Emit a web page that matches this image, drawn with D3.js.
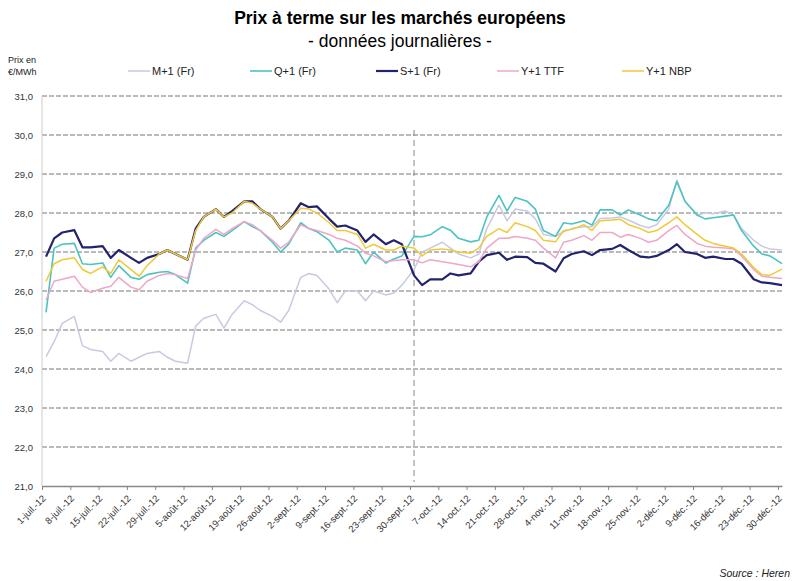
<!DOCTYPE html>
<html>
<head>
<meta charset="utf-8">
<script src="https://cdn.jsdelivr.net/npm/d3@7/dist/d3.min.js"></script>
<style>
body { margin: 0; background: #fff; }
svg { font-family: "Liberation Sans", Arial, sans-serif; }
</style>
</head>
<body>
<svg id="chart" width="800" height="581"></svg>
<script>
// trading days sampled (mon / wed / fri)
var dates = [
    "2012-07-02","2012-07-04","2012-07-06","2012-07-09","2012-07-11","2012-07-13","2012-07-16","2012-07-18","2012-07-20","2012-07-23","2012-07-25","2012-07-27","2012-07-30",
    "2012-08-01","2012-08-03","2012-08-06","2012-08-08","2012-08-10","2012-08-13","2012-08-15","2012-08-17","2012-08-20","2012-08-22","2012-08-24","2012-08-27","2012-08-29","2012-08-31",
    "2012-09-03","2012-09-05","2012-09-07","2012-09-10","2012-09-12","2012-09-14","2012-09-17","2012-09-19","2012-09-21","2012-09-24","2012-09-26","2012-09-28",
    "2012-10-01","2012-10-03","2012-10-05","2012-10-08","2012-10-10","2012-10-12","2012-10-15","2012-10-17","2012-10-19","2012-10-22","2012-10-24","2012-10-26","2012-10-29","2012-10-31",
    "2012-11-02","2012-11-05","2012-11-07","2012-11-09","2012-11-12","2012-11-14","2012-11-16","2012-11-19","2012-11-21","2012-11-23","2012-11-26","2012-11-28","2012-11-30",
    "2012-12-03","2012-12-05","2012-12-07","2012-12-10","2012-12-12","2012-12-14","2012-12-17","2012-12-19","2012-12-21","2012-12-24","2012-12-26","2012-12-28","2012-12-31"
];

var m1Fr = [
    24.32, 24.7, 25.17, 25.35, 24.6, 24.5, 24.45, 24.2, 24.4, 24.2, 24.3, 24.4, 24.45,
    24.3, 24.2, 24.15, 25.1, 25.3, 25.4, 25.05, 25.4, 25.75, 25.65, 25.5, 25.35, 25.2, 25.5,
    26.35, 26.45, 26.4, 26.05, 25.7, 26.0, 26.0, 25.75, 26.0, 25.9, 25.95, 26.15,
    26.55, 27.0, 27.1, 27.25, 27.1, 26.95, 26.85, 26.95, 27.6, 28.2, 27.8, 28.1, 28.05, 27.85,
    27.45, 27.4, 27.52, 27.6, 27.65, 27.65, 27.86, 27.87, 27.9, 27.82, 27.68, 27.62, 27.7,
    28.1, 28.85, 28.3, 27.95, 28.0, 27.98, 28.05, 27.95, 27.6, 27.3, 27.15, 27.08, 27.05
];
var q1Fr = [
    25.45, 27.1, 27.2, 27.22, 26.7, 26.68, 26.72, 26.35, 26.65, 26.35, 26.3, 26.42, 26.48,
    26.5, 26.42, 26.2, 27.1, 27.3, 27.5, 27.4, 27.55, 27.78, 27.65, 27.55, 27.25, 27.0, 27.2,
    27.75, 27.6, 27.52, 27.3, 27.0, 27.1, 27.05, 26.7, 27.0, 26.72, 26.82, 26.9,
    27.4, 27.39, 27.44, 27.65, 27.56, 27.35, 27.26, 27.3, 27.9, 28.45, 28.05, 28.4, 28.3, 28.1,
    27.55, 27.4, 27.75, 27.72, 27.8, 27.69, 28.08, 28.08, 27.95, 28.08, 27.95, 27.85, 27.8,
    28.2, 28.8, 28.3, 27.95, 27.85, 27.88, 27.92, 27.95, 27.55, 27.15, 26.95, 26.9, 26.7
];
var s1Fr = [
    26.88, 27.35, 27.5, 27.56, 27.12, 27.12, 27.15, 26.85, 27.05, 26.85, 26.72, 26.85, 26.95,
    27.05, 26.95, 26.8, 27.6, 27.9, 28.1, 27.9, 28.05, 28.3, 28.3, 28.1, 27.9, 27.6, 27.8,
    28.25, 28.15, 28.17, 27.85, 27.65, 27.68, 27.55, 27.26, 27.45, 27.2, 27.3, 27.2,
    26.4, 26.15, 26.3, 26.3, 26.45, 26.4, 26.45, 26.75, 26.92, 26.98, 26.8, 26.88, 26.87, 26.72,
    26.7, 26.5, 26.84, 26.95, 27.02, 26.92, 27.05, 27.08, 27.18, 27.05, 26.88, 26.86, 26.9,
    27.05, 27.2, 27.0, 26.95, 26.85, 26.88, 26.82, 26.82, 26.7, 26.3, 26.22, 26.2, 26.15
];
var y1Ttf = [
    25.77, 26.25, 26.3, 26.38, 26.1, 25.96, 26.07, 26.12, 26.35, 26.1, 26.03, 26.25, 26.4,
    26.45, 26.42, 26.32, 27.05, 27.35, 27.58, 27.45, 27.6, 27.78, 27.7, 27.55, 27.3, 27.1, 27.25,
    27.7, 27.6, 27.55, 27.45, 27.35, 27.3, 27.15, 26.97, 26.9, 26.75, 26.78, 26.8,
    26.8, 26.72, 26.8, 26.75, 26.72, 26.68, 26.62, 26.75, 27.1, 27.35, 27.35, 27.4, 27.35, 27.3,
    27.1, 26.85, 27.25, 27.3, 27.42, 27.3, 27.5, 27.5, 27.38, 27.45, 27.35, 27.25, 27.3,
    27.55, 27.68, 27.45, 27.22, 27.15, 27.12, 27.1, 27.08, 26.9, 26.55, 26.38, 26.35, 26.32
];
var y1Nbp = [
    26.25, 26.7, 26.8, 26.85, 26.55, 26.45, 26.62, 26.45, 26.8, 26.55, 26.38, 26.65, 26.95,
    27.05, 26.95, 26.8, 27.55, 27.9, 28.1, 27.9, 28.0, 28.3, 28.25, 28.1, 27.9, 27.6, 27.8,
    28.12, 28.1, 28.0, 27.75, 27.55, 27.55, 27.45, 27.1, 27.2, 27.05, 27.05, 27.15,
    27.1, 26.9, 27.05, 27.08, 27.05, 27.0, 26.97, 27.1, 27.4, 27.6, 27.5, 27.75, 27.65, 27.55,
    27.3, 27.26, 27.55, 27.58, 27.7, 27.55, 27.8, 27.82, 27.84, 27.7, 27.6, 27.5, 27.55,
    27.75, 27.9, 27.7, 27.45, 27.3, 27.22, 27.15, 27.1, 26.95, 26.6, 26.42, 26.4, 26.56
];

var seriesNames = ["M+1 (Fr)", "Q+1 (Fr)", "S+1 (Fr)", "Y+1 TTF", "Y+1 NBP"];
var yTicks = [21, 22, 23, 24, 25, 26, 27, 28, 29, 30, 31];
var monthsFr = ["janv.", "févr.", "mars", "avr.", "mai", "juin", "juil.", "août", "sept.", "oct.", "nov.", "déc."];

var colors = ["#c9c9e2", "#4cc3c1", "#22236f", "#eea7c8", "#f0c93a"];
var widths = [1.5, 1.6, 2.2, 1.5, 1.5];

var parse = d3.timeParse("%Y-%m-%d");
var svg = d3.select("#chart");

var x = d3.scaleTime()
    .domain([parse("2012-07-01"), parse("2012-12-31")])
    .range([42, 782]);
var y = d3.scaleLinear()
    .domain([21, 31])
    .range([486, 96]);

// titles
svg.append("text")
    .attr("x", 400).attr("y", 24)
    .attr("text-anchor", "middle")
    .style("font-size", "17.5px").style("font-weight", "bold")
    .text("Prix à terme sur les marchés européens");
svg.append("text")
    .attr("x", 400).attr("y", 47)
    .attr("text-anchor", "middle")
    .style("font-size", "17.5px")
    .text("- données journalières -");
svg.append("text")
    .attr("x", 8).attr("y", 63)
    .style("font-size", "9px").style("fill", "#222")
    .text("Prix en");
svg.append("text")
    .attr("x", 8).attr("y", 75)
    .style("font-size", "9px").style("fill", "#222")
    .text("€/MWh");

// grid
svg.append("g").selectAll("line")
    .data(yTicks.filter(function(d) { return d > 21; }))
    .enter()
    .append("line")
    .attr("x1", 42).attr("x2", 782)
    .attr("y1", function(d) { return y(d); })
    .attr("y2", function(d) { return y(d); })
    .style("stroke", "#777")
    .style("stroke-width", 1)
    .style("stroke-dasharray", "5,2");

svg.append("g").selectAll("text")
    .data(yTicks)
    .enter()
    .append("text")
    .attr("x", 33)
    .attr("y", function(d) { return y(d) + 3.5; })
    .attr("text-anchor", "end")
    .style("font-size", "9.5px").style("fill", "#333")
    .text(function(d) { return d3.format(".1f")(d).replace(".", ","); });

svg.append("line")
    .attr("x1", 42).attr("x2", 42)
    .attr("y1", 96).attr("y2", 486)
    .style("stroke", "#ccc");

// x axis, one tick a week
var weeks = d3.timeDay.range(parse("2012-07-01"), parse("2012-12-31"), 7);
var xAxis = d3.axisBottom(x)
    .tickValues(weeks)
    .tickSize(4)
    .tickSizeOuter(0)
    .tickFormat(function(d) {
        return d.getDate() + "-" + monthsFr[d.getMonth()] + "-12";
    });
var gx = svg.append("g")
    .attr("transform", "translate(0," + y(21) + ")")
    .call(xAxis);
gx.select(".domain").style("stroke", "#888").style("stroke-width", 1.5);
gx.selectAll(".tick line").style("stroke", "#888");
gx.selectAll("text")
    .attr("x", 0).attr("y", 0).attr("dy", 0)
    .attr("transform", "translate(4,13) rotate(-45)")
    .style("text-anchor", "end")
    .style("font-size", "9.5px")
    .style("fill", "#333");

// switch of contracts, 1 october
svg.append("line")
    .attr("x1", x(parse("2012-10-01"))).attr("x2", x(parse("2012-10-01")))
    .attr("y1", 130).attr("y2", 482)
    .style("stroke", "#888")
    .style("stroke-dasharray", "6,4");

// series
var allSeries = [m1Fr, q1Fr, s1Fr, y1Ttf, y1Nbp].map(function(vals, i) {
    return {
        name: seriesNames[i],
        values: vals.map(function(v, j) { return {date: parse(dates[j]), v: v}; })
    };
});
var line = d3.line()
    .x(function(d) { return x(d.date); })
    .y(function(d) { return y(d.v); });

svg.append("g").selectAll("path")
    .data(allSeries)
    .enter()
    .append("path")
    .attr("d", function(d) { return line(d.values); })
    .style("fill", "none")
    .style("stroke", function(d, i) { return colors[i]; })
    .style("stroke-width", function(d, i) { return widths[i]; })
    .style("stroke-linejoin", "round");

// legend
var legendX = [128, 250, 376, 497, 622];
var legend = svg.append("g").selectAll("g")
    .data(seriesNames)
    .enter()
    .append("g")
    .attr("transform", function(d, i) { return "translate(" + legendX[i] + ",71)"; });
legend.append("line")
    .attr("x1", 0).attr("x2", 22)
    .style("stroke", function(d, i) { return colors[i]; })
    .style("stroke-width", function(d, i) { return widths[i]; });
legend.append("text")
    .attr("x", 24).attr("y", 4)
    .style("font-size", "11px").style("fill", "#222")
    .text(function(d) { return d; });

svg.append("text")
    .attr("x", 790).attr("y", 577)
    .attr("text-anchor", "end")
    .style("font-size", "10.5px").style("font-style", "italic").style("fill", "#222")
    .text("Source : Heren");
</script>
</body>
</html>
